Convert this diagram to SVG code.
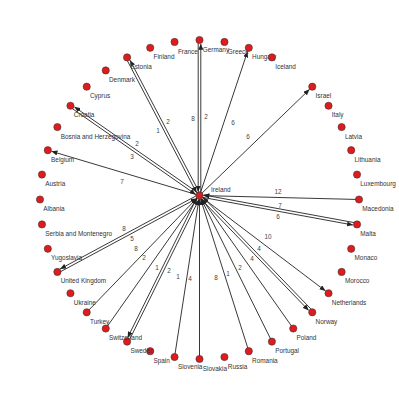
<svg xmlns="http://www.w3.org/2000/svg" width="399" height="399" viewBox="0 0 399 399">
<defs>
<marker id="ah" viewBox="0 0 12 10" refX="12" refY="5" markerWidth="6" markerHeight="5" markerUnits="userSpaceOnUse" orient="auto">
<path d="M0,0 L12,5 L0,10 z" fill="#222"/>
</marker>
<style>
.e{stroke:#222;stroke-width:0.9;fill:none}
.a{marker-end:url(#ah)}
.el{font-family:"Liberation Sans",Arial,sans-serif;font-size:6.4px;fill:#444;text-anchor:middle}
.n circle{fill:#e31a1c;stroke:#333;stroke-width:0.6}
.n text{font-family:"Liberation Sans",Arial,sans-serif;font-size:6.4px;fill:#333}
</style>
</defs>
<rect width="399" height="399" fill="#fff"/>
<g id="connectors">
<line class="e a" x1="199.5" y1="195.5" x2="51.45" y2="151.30"/>
<line class="e a" x1="199.5" y1="195.5" x2="247.59" y2="51.41"/>
<line class="e a" x1="199.5" y1="195.5" x2="309.55" y2="89.36"/>
<line class="e a" x1="199.5" y1="195.5" x2="325.51" y2="290.96"/>
<line class="e a" x1="359" y1="199.5" x2="203.30" y2="195.60"/>
<line class="e a" x1="86.72" y1="312.28" x2="196.86" y2="198.23"/>
<line class="e a" x1="105.75" y1="328.54" x2="197.31" y2="198.61"/>
<line class="e a" x1="174.55" y1="357.04" x2="198.92" y2="199.26"/>
<line class="e a" x1="199.5" y1="359" x2="199.5" y2="199.3"/>
<line class="e a" x1="248.79" y1="351.19" x2="200.65" y2="199.12"/>
<line class="e a" x1="271.91" y1="341.62" x2="201.19" y2="198.90"/>
<line class="e a" x1="293.25" y1="328.54" x2="201.69" y2="198.61"/>
<line class="e a" x1="200.24" y1="194.43" x2="74.32" y2="106.85"/>
<line class="e a" x1="69.72" y1="106.82" x2="195.64" y2="194.40"/>
<line class="e a" x1="200.65" y1="194.90" x2="130.00" y2="60.15"/>
<line class="e a" x1="125.94" y1="57.98" x2="196.59" y2="192.73"/>
<line class="e a" x1="200.8" y1="195.5" x2="200.8" y2="43.8"/>
<line class="e a" x1="198.2" y1="40" x2="198.2" y2="191.7"/>
<line class="e a" x1="198.88" y1="194.36" x2="60.11" y2="268.97"/>
<line class="e a" x1="57.99" y1="273.06" x2="196.77" y2="198.45"/>
<line class="e a" x1="198.34" y1="194.92" x2="127.61" y2="337.64"/>
<line class="e a" x1="128.25" y1="342.20" x2="198.98" y2="199.48"/>
<line class="e a" x1="198.57" y1="196.40" x2="308.71" y2="310.45"/>
<line class="e a" x1="313.22" y1="311.38" x2="203.08" y2="197.33"/>
<line class="e a" x1="199.27" y1="196.78" x2="353.07" y2="225.04"/>
<line class="e a" x1="357.28" y1="223.17" x2="203.48" y2="194.91"/>
<text class="el" x="122" y="184.3">7</text>
<text class="el" x="132" y="159.3">3</text>
<text class="el" x="137" y="146.3">2</text>
<text class="el" x="158" y="133.3">1</text>
<text class="el" x="168" y="124.3">2</text>
<text class="el" x="193" y="121.3">8</text>
<text class="el" x="206" y="119.3">2</text>
<text class="el" x="233" y="125.3">6</text>
<text class="el" x="248" y="139.3">6</text>
<text class="el" x="278" y="194.3">12</text>
<text class="el" x="280" y="208.3">7</text>
<text class="el" x="278" y="219.3">6</text>
<text class="el" x="268" y="239.3">10</text>
<text class="el" x="259" y="251.3">4</text>
<text class="el" x="252" y="261.3">4</text>
<text class="el" x="240" y="270.3">2</text>
<text class="el" x="228" y="275.8">1</text>
<text class="el" x="216" y="279.8">8</text>
<text class="el" x="190" y="281.3">4</text>
<text class="el" x="178" y="279.3">1</text>
<text class="el" x="169" y="273.3">2</text>
<text class="el" x="157" y="270.3">1</text>
<text class="el" x="144" y="260.3">2</text>
<text class="el" x="136" y="251.3">8</text>
<text class="el" x="132" y="241.3">5</text>
<text class="el" x="124" y="231.3">8</text>
</g>
<g id="Ireland" class="n"><circle cx="199.5" cy="195.5" r="3.6"/><text x="211" y="191.5">Ireland</text></g>
<g id="Albania" class="n"><circle cx="40" cy="199.5" r="3.6"/><text x="43.3" y="211">Albania</text></g>
<g id="Austria" class="n"><circle cx="41.96" cy="174.55" r="3.6"/><text x="45.3" y="186">Austria</text></g>
<g id="Belgium" class="n"><circle cx="47.81" cy="150.21" r="3.6"/><text x="51.1" y="161.7">Belgium</text></g>
<g id="Bosnia" class="n"><circle cx="57.38" cy="127.09" r="3.6"/><text x="60.7" y="138.6">Bosnia and Herzegovina</text></g>
<g id="Croatia" class="n"><circle cx="70.46" cy="105.75" r="3.6"/><text x="73.8" y="117.2">Croatia</text></g>
<g id="Cyprus" class="n"><circle cx="86.72" cy="86.72" r="3.6"/><text x="90" y="98.2">Cyprus</text></g>
<g id="Denmark" class="n"><circle cx="105.75" cy="70.46" r="3.6"/><text x="109" y="82">Denmark</text></g>
<g id="Estonia" class="n"><circle cx="127.09" cy="57.38" r="3.6"/><text x="130.4" y="68.9">Estonia</text></g>
<g id="Finland" class="n"><circle cx="150.21" cy="47.81" r="3.6"/><text x="153.5" y="59.3">Finland</text></g>
<g id="France" class="n"><circle cx="174.55" cy="41.96" r="3.6"/><text x="177.9" y="53.5">France</text></g>
<g id="Germany" class="n"><circle cx="199.5" cy="40" r="3.6"/><text x="202.8" y="51.5">Germany</text></g>
<g id="Greece" class="n"><circle cx="224.45" cy="41.96" r="3.6"/><text x="227.8" y="53.5">Greece</text></g>
<g id="Hungary" class="n"><circle cx="248.79" cy="47.81" r="3.6"/><text x="252.1" y="59.3">Hungary</text></g>
<g id="Iceland" class="n"><circle cx="271.91" cy="57.38" r="3.6"/><text x="275.2" y="68.9">Iceland</text></g>
<g id="Israel" class="n"><circle cx="312.28" cy="86.72" r="3.6"/><text x="315.6" y="98.2">Israel</text></g>
<g id="Italy" class="n"><circle cx="328.54" cy="105.75" r="3.6"/><text x="331.8" y="117.2">Italy</text></g>
<g id="Latvia" class="n"><circle cx="341.62" cy="127.09" r="3.6"/><text x="344.9" y="138.6">Latvia</text></g>
<g id="Lithuania" class="n"><circle cx="351.19" cy="150.21" r="3.6"/><text x="354.5" y="161.7">Lithuania</text></g>
<g id="Luxembourg" class="n"><circle cx="357.04" cy="174.55" r="3.6"/><text x="360.3" y="186">Luxembourg</text></g>
<g id="Macedonia" class="n"><circle cx="359" cy="199.5" r="3.6"/><text x="362.3" y="211">Macedonia</text></g>
<g id="Malta" class="n"><circle cx="357.04" cy="224.45" r="3.6"/><text x="360.3" y="236">Malta</text></g>
<g id="Monaco" class="n"><circle cx="351.19" cy="248.79" r="3.6"/><text x="354.5" y="260.3">Monaco</text></g>
<g id="Morocco" class="n"><circle cx="341.62" cy="271.91" r="3.6"/><text x="344.9" y="283.4">Morocco</text></g>
<g id="Netherlands" class="n"><circle cx="328.54" cy="293.25" r="3.6"/><text x="331.8" y="304.8">Netherlands</text></g>
<g id="Norway" class="n"><circle cx="312.28" cy="312.28" r="3.6"/><text x="315.6" y="323.8">Norway</text></g>
<g id="Poland" class="n"><circle cx="293.25" cy="328.54" r="3.6"/><text x="296.5" y="340">Poland</text></g>
<g id="Portugal" class="n"><circle cx="271.91" cy="341.62" r="3.6"/><text x="275.2" y="353.1">Portugal</text></g>
<g id="Romania" class="n"><circle cx="248.79" cy="351.19" r="3.6"/><text x="252.1" y="362.7">Romania</text></g>
<g id="Russia" class="n"><circle cx="224.45" cy="357.04" r="3.6"/><text x="227.8" y="368.5">Russia</text></g>
<g id="Slovakia" class="n"><circle cx="199.5" cy="359" r="3.6"/><text x="202.8" y="370.5">Slovakia</text></g>
<g id="Slovenia" class="n"><circle cx="174.55" cy="357.04" r="3.6"/><text x="177.9" y="368.5">Slovenia</text></g>
<g id="Spain" class="n"><circle cx="150.21" cy="351.19" r="3.6"/><text x="153.5" y="362.7">Spain</text></g>
<g id="Sweden" class="n"><circle cx="127.09" cy="341.62" r="3.6"/><text x="130.4" y="353.1">Sweden</text></g>
<g id="Switzerland" class="n"><circle cx="105.75" cy="328.54" r="3.6"/><text x="109" y="340">Switzerland</text></g>
<g id="Turkey" class="n"><circle cx="86.72" cy="312.28" r="3.6"/><text x="90" y="323.8">Turkey</text></g>
<g id="Ukraine" class="n"><circle cx="70.46" cy="293.25" r="3.6"/><text x="73.8" y="304.8">Ukraine</text></g>
<g id="UnitedKingdom" class="n"><circle cx="57.38" cy="271.91" r="3.6"/><text x="60.7" y="283.4">United Kingdom</text></g>
<g id="Yugoslavia" class="n"><circle cx="47.81" cy="248.79" r="3.6"/><text x="51.1" y="260.3">Yugoslavia</text></g>
<g id="SerbiaMontenegro" class="n"><circle cx="41.96" cy="224.45" r="3.6"/><text x="45.3" y="236">Serbia and Montenegro</text></g>
</svg>
